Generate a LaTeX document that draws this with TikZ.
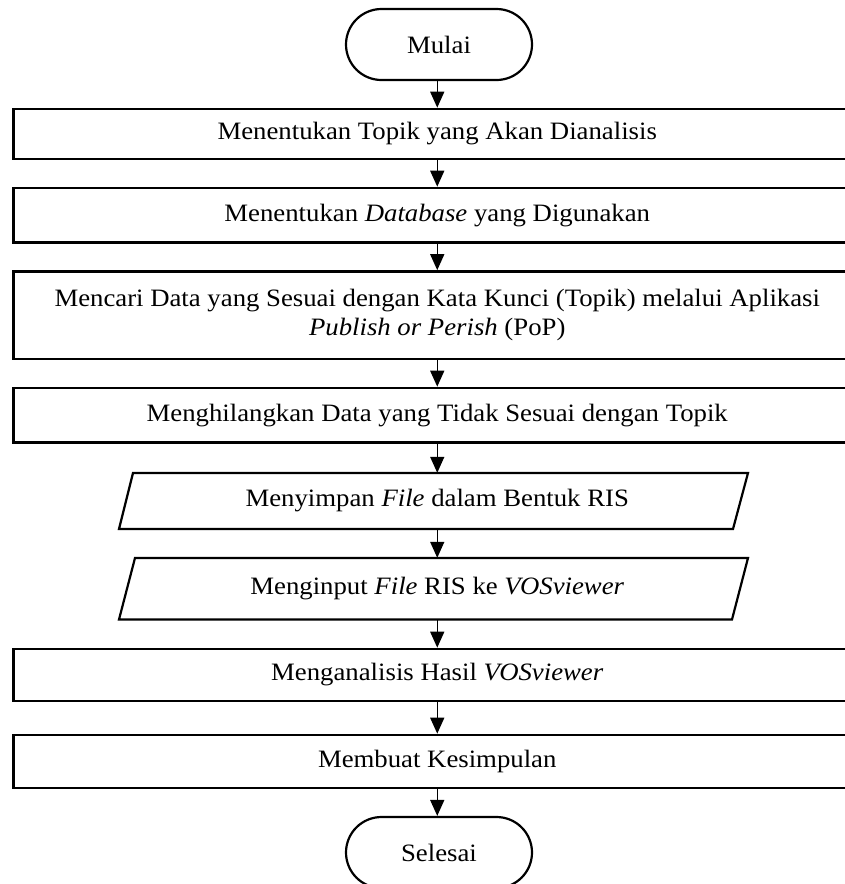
\documentclass[tikz,border=0pt]{standalone}
\usepackage{fontspec}
\setmainfont{Liberation Serif}[FakeStretch=1.07]
\usetikzlibrary{arrows.meta,shapes.misc}
\begin{document}
\begin{tikzpicture}[x=1pt,y=-1pt,
  every node/.style={font=\fontsize{25}{29.3}\selectfont},
  term/.style={rounded rectangle,draw,line width=2.2pt,minimum width=186pt,minimum height=71pt,inner sep=0pt},
  procbox/.style={rectangle,draw,line width=2.7pt,minimum width=847.5pt,inner sep=0pt,align=center},
  iobox/.style={rectangle,draw=none,inner sep=0pt,align=center},
  para/.style={line width=2.2pt,line join=miter},
  flow/.style={line width=1.5pt,-{Triangle[length=16pt,width=14pt]}}
]
\useasboundingbox (0,0) rectangle (844,884);
\node[term] (start) at (439,44.5) {Mulai};
\node[procbox,minimum height=50pt] (b1) at (437.25,134) {Menentukan Topik yang Akan Dianalisis};
\node[procbox,minimum height=54.5pt] (b2) at (437.25,215.25) {Menentukan \textit{Database} yang Digunakan};
\node[procbox,minimum height=87.5pt] (b3) at (437.25,315.25) {Mencari Data yang Sesuai dengan Kata Kunci (Topik) melalui Aplikasi\\\textit{Publish or Perish} (PoP)};
\node[procbox,minimum height=54.7pt] (b4) at (437.25,415.35) {Menghilangkan Data yang Tidak Sesuai dengan Topik};
\node[iobox,minimum height=56pt] (p1) at (437.25,501) {Menyimpan \textit{File} dalam Bentuk RIS};
\node[iobox,minimum height=61.5pt] (p2) at (437.25,588.75) {Menginput \textit{File} RIS ke \textit{VOSviewer}};
\node[procbox,minimum height=52pt] (b5) at (437.25,675) {Menganalisis Hasil \textit{VOSviewer}};
\node[procbox,minimum height=53pt] (b6) at (437.25,761.5) {Membuat Kesimpulan};
\node[term] (stop) at (439,852.5) {Selesai};
\draw[para] (133,473) -- (748,473) -- (733,529) -- (119,529) -- cycle;
\draw[para] (135,558) -- (748,558) -- (732,619.5) -- (119,619.5) -- cycle;
\draw[flow] (start.south -| b1.north) -- (b1.north);
\draw[flow] (b1) -- (b2);
\draw[flow] (b2) -- (b3);
\draw[flow] (b3) -- (b4);
\draw[flow] (b4) -- (p1);
\draw[flow] (p1) -- (p2);
\draw[flow] (p2) -- (b5);
\draw[flow] (b5) -- (b6);
\draw[flow] (b6.south) -- (b6.south |- stop.north);
\end{tikzpicture}
\end{document}
